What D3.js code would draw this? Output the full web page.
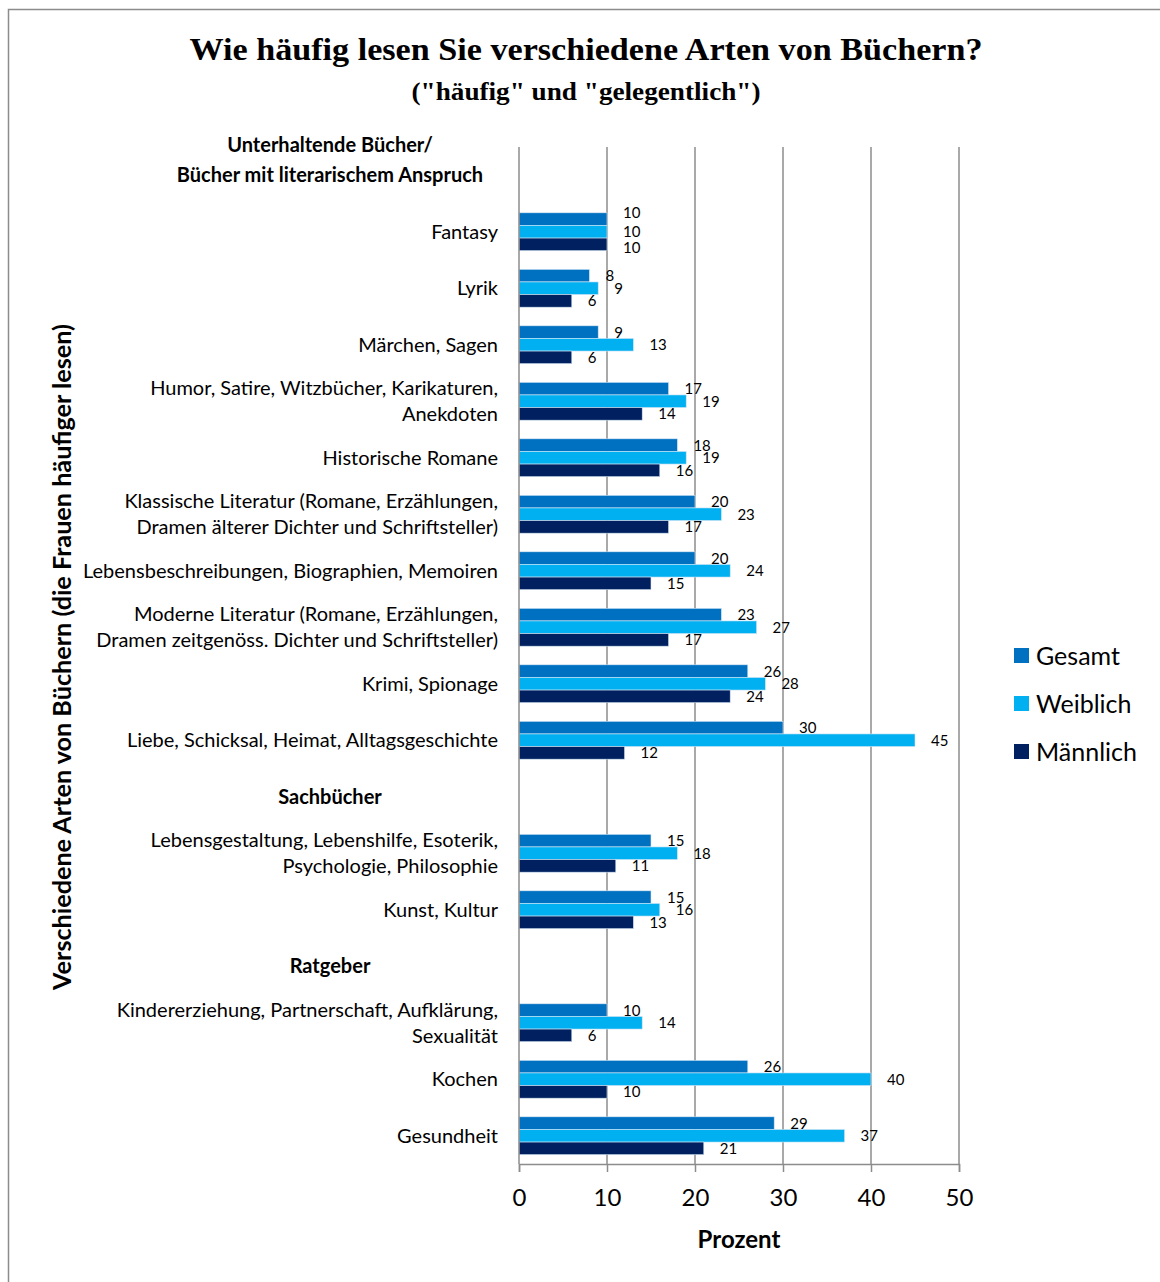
<!DOCTYPE html>
<html>
<head>
<meta charset="utf-8">
<script src="https://cdn.jsdelivr.net/npm/d3@7"></script>
<style>
  html, body { margin: 0; padding: 0; background: #fff; }
  svg { display: block; }
</style>
</head>
<body>
<svg id="chart" width="1160" height="1282"></svg>
<script>
// Category rows, top to bottom. Section headers have no bars.
const categories = [
  "Unterhaltende Bücher/\nBücher mit literarischem Anspruch\n",
  "Fantasy",
  "Lyrik",
  "Märchen, Sagen",
  "Humor, Satire, Witzbücher, Karikaturen,\nAnekdoten",
  "Historische Romane",
  "Klassische Literatur (Romane, Erzählungen,\nDramen älterer Dichter und Schriftsteller)",
  "Lebensbeschreibungen, Biographien, Memoiren",
  "Moderne Literatur (Romane, Erzählungen,\nDramen zeitgenöss. Dichter und Schriftsteller)",
  "Krimi, Spionage",
  "Liebe, Schicksal, Heimat, Alltagsgeschichte",
  "Sachbücher",
  "Lebensgestaltung, Lebenshilfe, Esoterik,\nPsychologie, Philosophie",
  "Kunst, Kultur",
  "Ratgeber",
  "Kindererziehung, Partnerschaft, Aufklärung,\nSexualität",
  "Kochen",
  "Gesundheit"
];
const headers = [categories[0], "Sachbücher", "Ratgeber"];

const seriesNames = ["Gesamt", "Weiblich", "Männlich"];
const seriesColors = ["#0070C0", "#00B0F0", "#002060"];

// Percent values per series (null = header row)
const gesamt   = [null, 10,  8,  9, 17, 18, 20, 20, 23, 26, 30, null, 15, 15, null, 10, 26, 29];
const weiblich = [null, 10,  9, 13, 19, 19, 23, 24, 27, 28, 45, null, 18, 16, null, 14, 40, 37];
const maennlich= [null, 10,  6,  6, 14, 16, 17, 15, 17, 24, 12, null, 11, 13, null,  6, 10, 21];

const xTicks = [0, 10, 20, 30, 40, 50];

const title = "Wie häufig lesen Sie verschiedene Arten von Büchern?";
const subtitle = "(\"häufig\" und \"gelegentlich\")";
const xTitle = "Prozent";
const yTitle = "Verschiedene Arten von Büchern (die Frauen häufiger lesen)";

const svg = d3.select("#chart");
const sans = "Lato, 'Open Sans', sans-serif";
const serif = "'Liberation Serif', 'DejaVu Serif', serif";

// Outer frame
svg.append("path")
  .attr("d", "M8.5,1282 L8.5,9.5 L1160,9.5")
  .attr("fill", "none").attr("stroke", "#8c8c8c").attr("stroke-width", 1.5);

const plot = { left: 519, right: 959, top: 147, bottom: 1164 };

const x = d3.scaleLinear().domain([0, 50]).range([plot.left, plot.right]);
const y = d3.scaleBand().domain(d3.range(categories.length))
  .range([plot.top, plot.bottom]).paddingInner(0.33).paddingOuter(0.165);
const inner = d3.scaleBand().domain(d3.range(3)).range([0, y.bandwidth()]);

// Gridlines
svg.append("g").selectAll("line").data(xTicks.slice(1)).join("line")
  .attr("x1", d => x(d)).attr("x2", d => x(d))
  .attr("y1", plot.top).attr("y2", plot.bottom)
  .attr("stroke", "#8c8c8c").attr("stroke-width", 1.5);

// Bars and value labels
const series = [gesamt, weiblich, maennlich];
const barG = svg.append("g");
series.forEach((vals, si) => {
  const rows = vals.map((v, i) => ({ v, i })).filter(d => d.v !== null);
  barG.append("g").selectAll("rect").data(rows).join("rect")
    .attr("x", x(0))
    .attr("y", d => y(d.i) + inner(si))
    .attr("width", d => x(d.v) - x(0))
    .attr("height", inner.bandwidth())
    .attr("fill", seriesColors[si])
    .attr("stroke", "#d6e6f5").attr("stroke-width", 0.6);
  barG.append("g").selectAll("text").data(rows).join("text")
    .attr("x", d => x(d.v) + 16)
    .attr("y", d => {
      // identical values in a group would stack on top of each other: spread them
      const same = series.every(s => s[d.i] === d.v);
      const nudge = same ? [-7, 0, 3][si] : 0;
      return y(d.i) + inner(si) + inner.bandwidth() / 2 + nudge;
    })
    .attr("dy", "0.36em")
    .attr("font-family", sans).attr("font-size", 15).attr("fill", "#000")
    .text(d => d.v);
});

// Axis lines
const xAxis = d3.axisBottom(x).tickValues(xTicks).tickSize(8).tickPadding(17).tickFormat(d3.format("d"));
const gx = svg.append("g").attr("transform", `translate(0,${plot.bottom})`).call(xAxis);
gx.select(".domain").attr("stroke", "#8c8c8c").attr("stroke-width", 1.5);
gx.selectAll(".tick line").attr("stroke", "#8c8c8c").attr("stroke-width", 1.5);
gx.selectAll(".tick text").attr("font-family", sans).attr("font-size", 24).attr("fill", "#000");

svg.append("line")
  .attr("x1", x(0)).attr("x2", x(0)).attr("y1", plot.top).attr("y2", plot.bottom)
  .attr("stroke", "#8c8c8c").attr("stroke-width", 1.5);

// Category labels
const labelG = svg.append("g");
categories.forEach((c, i) => {
  const lines = c.split("\n");
  const isHeader = headers.includes(c);
  const cy = y(i) + y.bandwidth() / 2;
  const lh = isHeader ? 30 : 26;
  const t = labelG.append("text")
    .attr("font-family", sans)
    .attr("font-size", 20)
    .attr("font-weight", isHeader ? 700 : 400)
    .attr("text-anchor", isHeader ? "middle" : "end")
    .attr("fill", "#000");
  lines.forEach((ln, k) => {
    t.append("tspan")
      .attr("x", isHeader ? 330 : 498)
      .attr("y", cy + (k - (lines.length - 1) / 2) * lh)
      .attr("dy", "0.36em")
      .text(ln);
  });
});

// Titles
svg.append("text").attr("x", 586).attr("y", 60).attr("text-anchor", "middle")
  .attr("font-family", serif).attr("font-weight", 700).attr("font-size", 31)
  .attr("textLength", 793).attr("lengthAdjust", "spacingAndGlyphs")
  .text(title);
svg.append("text").attr("x", 586).attr("y", 100).attr("text-anchor", "middle")
  .attr("font-family", serif).attr("font-weight", 700).attr("font-size", 25)
  .attr("textLength", 349).attr("lengthAdjust", "spacingAndGlyphs")
  .text(subtitle);

svg.append("text").attr("x", (plot.left + plot.right) / 2).attr("y", 1248).attr("text-anchor", "middle")
  .attr("font-family", sans).attr("font-weight", 700).attr("font-size", 24)
  .text(xTitle);

svg.append("text")
  .attr("transform", `translate(71,657) rotate(-90)`)
  .attr("text-anchor", "middle")
  .attr("font-family", sans).attr("font-weight", 700).attr("font-size", 25.2)
  .text(yTitle);

// Legend
const legend = svg.append("g").attr("transform", "translate(1014,648)");
seriesNames.forEach((n, i) => {
  const g = legend.append("g").attr("transform", `translate(0,${i * 48})`);
  g.append("rect").attr("width", 15).attr("height", 15).attr("fill", seriesColors[i]);
  g.append("text").attr("x", 22).attr("y", 7.5).attr("dy", "0.36em")
    .attr("font-family", sans).attr("font-size", 25).attr("fill", "#000").text(n);
});
</script>
</body>
</html>
